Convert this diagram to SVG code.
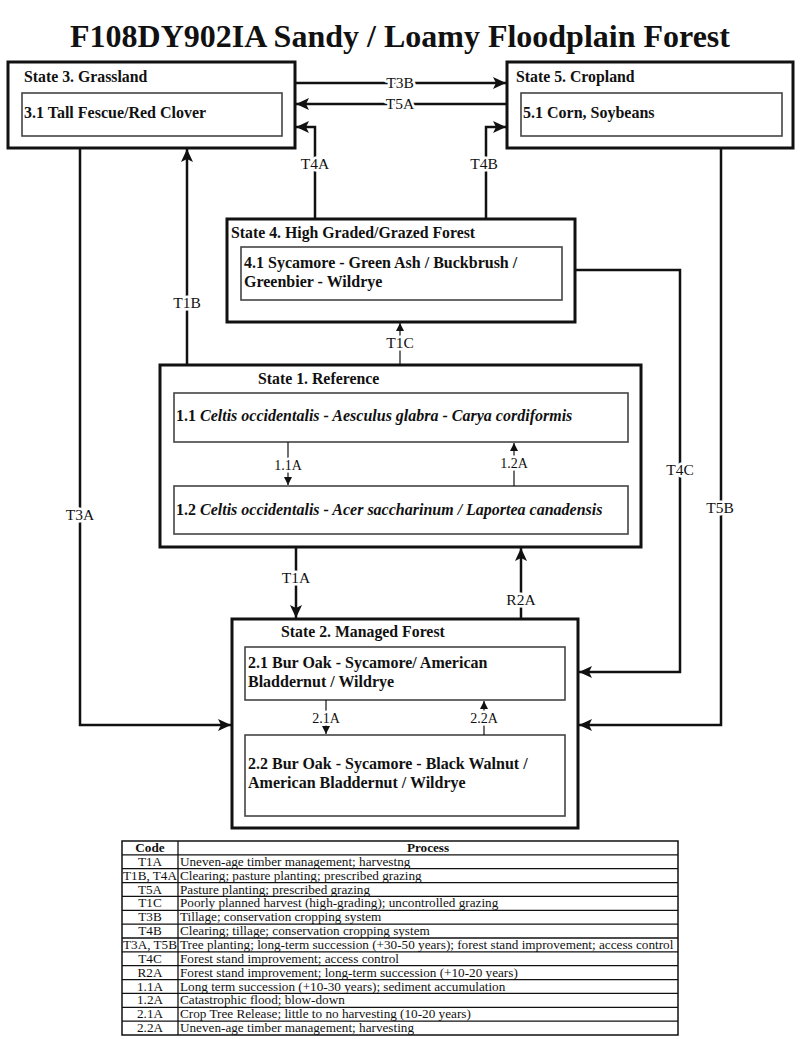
<svg xmlns="http://www.w3.org/2000/svg" width="800" height="1039" viewBox="0 0 800 1039">
<style>
text{font-family:"Liberation Serif","Times New Roman",serif;fill:#111}
.title{font-size:32px;font-weight:bold}
.st{font-size:15.8px;font-weight:bold}
.ph{font-size:16px;font-weight:bold}
.it{font-style:italic}
.lbl{font-size:15.5px;text-anchor:middle;paint-order:stroke;stroke:#fff;stroke-width:5px;stroke-linejoin:round}
.sl{font-size:14px}
.outer{fill:#fff;stroke:#111;stroke-width:3}
.inner{fill:#fff;stroke:#444;stroke-width:1.6}
.con{fill:none;stroke:#111;stroke-width:2.5}
.thin{fill:none;stroke:#111;stroke-width:1.2}
.tb{font-size:13.2px}
.tc{font-size:13.2px;text-anchor:middle}
.tl{stroke:#111;stroke-width:1.3}
</style>
<defs>
<marker id="ah" markerUnits="userSpaceOnUse" markerWidth="14" markerHeight="14" refX="13" refY="6" orient="auto"><path d="M0,0 L13,6 L0,12 L3,6 z" fill="#111"/></marker>
<marker id="as" markerUnits="userSpaceOnUse" markerWidth="10" markerHeight="10" refX="8" refY="4" orient="auto"><path d="M0,0 L8,4 L0,8 z" fill="#111"/></marker>
</defs>
<rect width="800" height="1039" fill="#fff"/>
<text class="title" x="400" y="47" text-anchor="middle">F108DY902IA Sandy / Loamy Floodplain Forest</text>

<g id="state3">
<rect class="outer" x="8" y="62" width="287" height="86"/>
<text class="st" x="24" y="82">State 3. Grassland</text>
<rect class="inner" x="22" y="93" width="260" height="43"/>
<text class="ph" x="24" y="118">3.1 Tall Fescue/Red Clover</text>
</g>

<g id="state5">
<rect class="outer" x="507" y="62" width="286" height="86"/>
<text class="st" x="516" y="82">State 5. Cropland</text>
<rect class="inner" x="521" y="93" width="261" height="43"/>
<text class="ph" x="523" y="118">5.1 Corn, Soybeans</text>
</g>

<g id="state4">
<rect class="outer" x="227" y="219" width="348" height="103"/>
<text class="st" x="231" y="238">State 4. High Graded/Grazed Forest</text>
<rect class="inner" x="241" y="247" width="321" height="53"/>
<text class="ph" x="244" y="268">4.1 Sycamore - Green Ash / Buckbrush /</text>
<text class="ph" x="244" y="287">Greenbier - Wildrye</text>
</g>

<g id="state1">
<rect class="outer" x="160" y="365" width="481" height="182"/>
<text class="st" x="258" y="384">State 1. Reference</text>
<rect class="inner" x="174" y="393" width="454" height="49"/>
<text class="ph" x="176" y="421">1.1 <tspan class="it">Celtis occidentalis - Aesculus glabra - Carya cordiformis</tspan></text>
<rect class="inner" x="174" y="486" width="454" height="48"/>
<text class="ph" x="176" y="515">1.2 <tspan class="it">Celtis occidentalis - Acer saccharinum / Laportea canadensis</tspan></text>
</g>

<g id="state2">
<rect class="outer" x="232" y="619" width="346" height="209"/>
<text class="st" x="281" y="637">State 2. Managed Forest</text>
<rect class="inner" x="245" y="647" width="320" height="53"/>
<text class="ph" x="248" y="668">2.1 Bur Oak - Sycamore/ American</text>
<text class="ph" x="248" y="687">Bladdernut / Wildrye</text>
<rect class="inner" x="245" y="735" width="320" height="81"/>
<text class="ph" x="248" y="769">2.2 Bur Oak - Sycamore - Black Walnut /</text>
<text class="ph" x="248" y="788">American Bladdernut / Wildrye</text>
</g>

<g id="connectors">
<path class="con" d="M295,83 H506" marker-end="url(#ah)"/>
<path class="con" d="M507,104 H296" marker-end="url(#ah)"/>
<path class="con" d="M315,219 V127 H296" marker-end="url(#ah)"/>
<path class="con" d="M486,219 V127 H506" marker-end="url(#ah)"/>
<path class="con" d="M187,365 V149" marker-end="url(#ah)"/>
<path class="thin" d="M400,365 V323" marker-end="url(#as)"/>
<path class="con" d="M80,148 V725 H231" marker-end="url(#ah)"/>
<path class="con" d="M721,148 V725 H579" marker-end="url(#ah)"/>
<path class="con" d="M575,270 H680 V672 H579" marker-end="url(#ah)"/>
<path class="con" d="M296,547 V618" marker-end="url(#ah)"/>
<path class="con" d="M521,619 V548" marker-end="url(#ah)"/>
<path class="thin" d="M288,442 V485" marker-end="url(#as)"/>
<path class="thin" d="M514,486 V443" marker-end="url(#as)"/>
<path class="thin" d="M326,700 V734" marker-end="url(#as)"/>
<path class="thin" d="M484,735 V701" marker-end="url(#as)"/>
<text class="lbl" x="400" y="88">T3B</text>
<text class="lbl" x="400" y="109">T5A</text>
<text class="lbl" x="315" y="169">T4A</text>
<text class="lbl" x="484" y="169">T4B</text>
<text class="lbl" x="187" y="308">T1B</text>
<text class="lbl" x="400" y="348">T1C</text>
<text class="lbl" x="80" y="520">T3A</text>
<text class="lbl" x="720" y="513">T5B</text>
<text class="lbl" x="680" y="475">T4C</text>
<text class="lbl" x="296" y="583">T1A</text>
<text class="lbl" x="521" y="605">R2A</text>
<text class="lbl sl" x="288" y="470">1.1A</text>
<text class="lbl sl" x="514" y="468">1.2A</text>
<text class="lbl sl" x="326" y="723">2.1A</text>
<text class="lbl sl" x="484" y="723">2.2A</text>
</g>

<g id="legend">
<rect x="122" y="841" width="556" height="194" fill="#fff" stroke="#111" stroke-width="1.5"/>
<line class="tl" x1="178" y1="841" x2="178" y2="1035"/>
<line class="tl" x1="122" y1="854.9" x2="678" y2="854.9"/>
<line class="tl" x1="122" y1="868.7" x2="678" y2="868.7"/>
<line class="tl" x1="122" y1="882.6" x2="678" y2="882.6"/>
<line class="tl" x1="122" y1="896.4" x2="678" y2="896.4"/>
<line class="tl" x1="122" y1="910.3" x2="678" y2="910.3"/>
<line class="tl" x1="122" y1="924.1" x2="678" y2="924.1"/>
<line class="tl" x1="122" y1="938" x2="678" y2="938"/>
<line class="tl" x1="122" y1="951.9" x2="678" y2="951.9"/>
<line class="tl" x1="122" y1="965.7" x2="678" y2="965.7"/>
<line class="tl" x1="122" y1="979.6" x2="678" y2="979.6"/>
<line class="tl" x1="122" y1="993.4" x2="678" y2="993.4"/>
<line class="tl" x1="122" y1="1007.3" x2="678" y2="1007.3"/>
<line class="tl" x1="122" y1="1021.1" x2="678" y2="1021.1"/>
<text class="tc" x="150" y="852" font-weight="bold">Code</text>
<text class="tc" x="428" y="852" font-weight="bold">Process</text>
<text class="tc" x="150" y="865.8">T1A</text><text class="tb" x="180" y="865.8">Uneven-age timber management; harvestng</text>
<text class="tc" x="150" y="879.7">T1B, T4A</text><text class="tb" x="180" y="879.7">Clearing; pasture planting; prescribed grazing</text>
<text class="tc" x="150" y="893.5">T5A</text><text class="tb" x="180" y="893.5">Pasture planting; prescribed grazing</text>
<text class="tc" x="150" y="907.4">T1C</text><text class="tb" x="180" y="907.4">Poorly planned harvest (high-grading); uncontrolled grazing</text>
<text class="tc" x="150" y="921.2">T3B</text><text class="tb" x="180" y="921.2">Tillage; conservation cropping system</text>
<text class="tc" x="150" y="935.1">T4B</text><text class="tb" x="180" y="935.1">Clearing; tillage; conservation cropping system</text>
<text class="tc" x="150" y="948.9">T3A, T5B</text><text class="tb" x="180" y="948.9">Tree planting; long-term succession (+30-50 years); forest stand improvement; access control</text>
<text class="tc" x="150" y="962.8">T4C</text><text class="tb" x="180" y="962.8">Forest stand improvement; access control</text>
<text class="tc" x="150" y="976.6">R2A</text><text class="tb" x="180" y="976.6">Forest stand improvement; long-term succession (+10-20 years)</text>
<text class="tc" x="150" y="990.5">1.1A</text><text class="tb" x="180" y="990.5">Long term succession (+10-30 years); sediment accumulation</text>
<text class="tc" x="150" y="1004.3">1.2A</text><text class="tb" x="180" y="1004.3">Catastrophic flood; blow-down</text>
<text class="tc" x="150" y="1018.2">2.1A</text><text class="tb" x="180" y="1018.2">Crop Tree Release; little to no harvesting (10-20 years)</text>
<text class="tc" x="150" y="1032">2.2A</text><text class="tb" x="180" y="1032">Uneven-age timber management; harvesting</text>
</g>
</svg>
